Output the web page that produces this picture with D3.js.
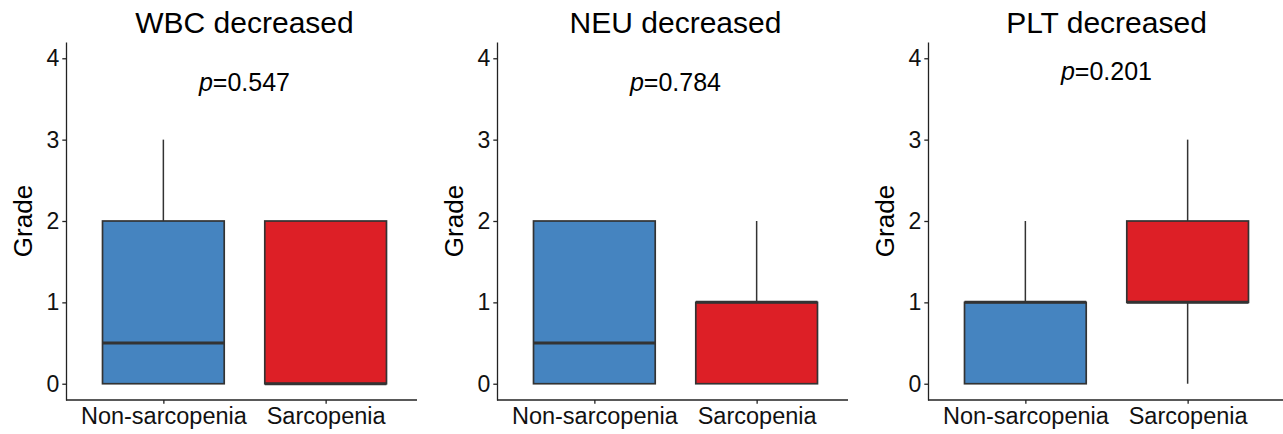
<!DOCTYPE html>
<html>
<head>
<meta charset="utf-8">
<script src="https://cdn.jsdelivr.net/npm/d3@7"></script>
<style>
  body { margin: 0; background: #fff; }
  text { font-family: "Liberation Sans", Arial, sans-serif; }
</style>
</head>
<body>
<div id="chart"></div>
<script>
// panel data
var panelTitles = ["WBC decreased", "NEU decreased", "PLT decreased"];
var pValues = ["0.547", "0.784", "0.201"];
var pLabelY = [3.6, 3.6, 3.73];
var groups = ["Non-sarcopenia", "Sarcopenia"];
var groupColors = ["#4584c0", "#dd1f26"];
var yTicks = [0, 1, 2, 3, 4];

// box stats per panel: [min, q1, median, q3, max] for each group
var wbcStats = [[0, 0, 0.5, 2, 3], [0, 0, 0, 2, 2]];
var neuStats = [[0, 0, 0.5, 2, 2], [0, 0, 1, 1, 2]];
var pltStats = [[0, 0, 1, 1, 2], [0, 1, 1, 2, 3]];
var allStats = [wbcStats, neuStats, pltStats];

var width = 1283, height = 434;
var panelLeft = [66, 497, 928];
var plotW = 357, plotTop = 42, plotBottom = 400;
var axisLen = [351, 351, 357];

var svg = d3.select("#chart").append("svg")
    .attr("width", width)
    .attr("height", height);

var y = d3.scaleLinear().domain([-0.2, 4.2]).range([plotBottom, plotTop]);
var x = d3.scalePoint().domain(groups).range([0, plotW]).padding(0.6);
var boxW = x.step() * 0.75;

allStats.forEach(function(stats, i) {
    var g = svg.append("g").attr("transform", "translate(" + panelLeft[i] + ",0)");

    // title
    g.append("text")
        .attr("x", plotW / 2)
        .attr("y", 33)
        .attr("text-anchor", "middle")
        .style("font-size", "30px")
        .attr("fill", "#000")
        .text(panelTitles[i]);

    // p value
    var pt = g.append("text")
        .attr("x", plotW / 2)
        .attr("y", y(pLabelY[i]))
        .attr("text-anchor", "middle")
        .style("font-size", "25px")
        .attr("fill", "#000");
    pt.append("tspan").style("font-style", "italic").text("p");
    pt.append("tspan").text("=" + pValues[i]);

    var data = stats.map(function(s, j) {
        return {key: groups[j], min: s[0], q1: s[1], med: s[2], q3: s[3], max: s[4], color: groupColors[j]};
    });

    var box = g.selectAll("g.box").data(data).enter().append("g").attr("class", "box");

    // whiskers
    box.append("line")
        .attr("x1", function(d) { return x(d.key); })
        .attr("x2", function(d) { return x(d.key); })
        .attr("y1", function(d) { return y(d.max); })
        .attr("y2", function(d) { return y(d.q3); })
        .attr("stroke", "#333").attr("stroke-width", 1.5);
    box.append("line")
        .attr("x1", function(d) { return x(d.key); })
        .attr("x2", function(d) { return x(d.key); })
        .attr("y1", function(d) { return y(d.min); })
        .attr("y2", function(d) { return y(d.q1); })
        .attr("stroke", "#333").attr("stroke-width", 1.5);

    box.append("rect")
        .attr("x", function(d) { return x(d.key) - boxW / 2; })
        .attr("width", boxW)
        .attr("y", function(d) { return y(d.q3); })
        .attr("height", function(d) { return y(d.q1) - y(d.q3); })
        .attr("fill", function(d) { return d.color; })
        .attr("stroke", "#333")
        .attr("stroke-width", 1.7);

    box.append("line")
        .attr("x1", function(d) { return x(d.key) - boxW / 2; })
        .attr("x2", function(d) { return x(d.key) + boxW / 2; })
        .attr("y1", function(d) { return y(d.med); })
        .attr("y2", function(d) { return y(d.med); })
        .attr("stroke", "#333").attr("stroke-width", 3);

    // axes
    var yAxis = g.append("g")
        .call(d3.axisLeft(y).tickValues(yTicks).tickFormat(d3.format("d"))
            .tickSize(3.7).tickSizeOuter(0).tickPadding(3));
    yAxis.selectAll("text").style("font-size", "23px").attr("fill", "#111");
    yAxis.selectAll("line, path").attr("stroke", "#222").attr("stroke-width", 1.3);

    var xAxis = g.append("g")
        .attr("transform", "translate(0," + plotBottom + ")")
        .call(d3.axisBottom(x).tickSize(3.7).tickSizeOuter(0).tickPadding(4));
    xAxis.select(".domain").attr("d", "M0,0H" + axisLen[i]);
    xAxis.selectAll("text").style("font-size", "23.5px").attr("fill", "#111");
    xAxis.selectAll("line, path").attr("stroke", "#222").attr("stroke-width", 1.3);

    // y label
    g.append("text")
        .attr("transform", "translate(-34," + ((plotTop + plotBottom) / 2) + ") rotate(-90)")
        .attr("text-anchor", "middle")
        .style("font-size", "26px")
        .attr("fill", "#000")
        .text("Grade");
});
</script>
</body>
</html>
